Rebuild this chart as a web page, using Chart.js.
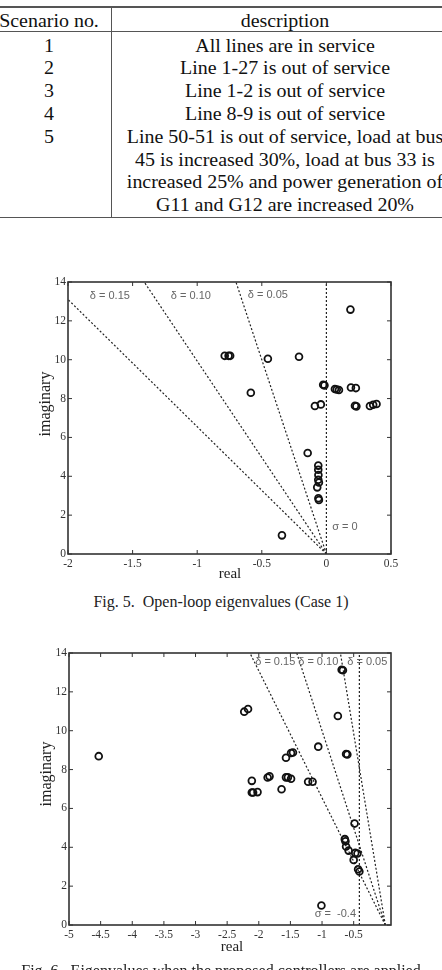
<!DOCTYPE html>
<html><head><meta charset="utf-8">
<script src="https://cdn.jsdelivr.net/npm/chart.js"></script>
<style>
html,body{margin:0;padding:0;background:#fff;width:442px;height:970px;overflow:hidden;position:relative;}
.t{position:absolute;font-family:"Liberation Serif","Times New Roman",serif;font-size:19px;color:#111;white-space:nowrap;transform:translate(-50%,-50%) scaleX(1.05);line-height:1;}
.hl{position:absolute;background:#555;}
canvas{position:absolute;left:0;}
.cap{position:absolute;left:0;width:442px;text-align:center;font-family:"Liberation Serif","Times New Roman",serif;font-size:16px;line-height:18px;color:#222;white-space:pre;}
</style></head><body>
<div id="tbl"></div>
<canvas id="c1" width="442" height="320" style="top:270px"></canvas>
<div class="cap" style="top:593px">Fig. 5.  Open-loop eigenvalues (Case 1)</div>
<canvas id="c2" width="442" height="330" style="top:640px"></canvas>
<div class="cap" style="top:962px">Fig. 6.  Eigenvalues when the proposed controllers are applied</div>
<script>
// ---- table data ----
const tableHeaders = ["Scenario no.", "description"];
const scenarioNumbers = ["1", "2", "3", "4", "5"];
const scenarioDescriptions = [
  ["All lines are in service"],
  ["Line 1-27 is out of service"],
  ["Line 1-2 is out of service"],
  ["Line 8-9 is out of service"],
  ["Line 50-51 is out of service, load at bus", "45 is increased 30%, load at bus 33 is", "increased 25% and power generation of", "G11 and G12 are increased 20%"]
];

// ---- Fig. 5 data (Case 1, open loop) ----
const fig5Real = [0.186, -0.787, -0.757, -0.745, -0.453, -0.212, -0.585, -0.025, -0.015, 0.066, 0.08, 0.097, 0.19, 0.228, -0.089, -0.043, 0.221, 0.232, 0.337, 0.362, 0.388, -0.145, -0.063, -0.063, -0.062, -0.063, -0.058, -0.071, -0.062, -0.058, -0.344];
const fig5Imag = [12.58, 10.2, 10.2, 10.2, 10.05, 10.15, 8.3, 8.71, 8.68, 8.49, 8.47, 8.44, 8.57, 8.54, 7.62, 7.7, 7.63, 7.6, 7.62, 7.68, 7.72, 5.2, 4.55, 4.34, 4.07, 3.82, 3.68, 3.43, 2.87, 2.78, 0.96];
const fig5XTicks = {min: -2, max: 0.5, step: 0.5};
const fig5YTicks = {min: 0, max: 14, step: 2};
const fig5LineNames = ["σ = 0", "δ = 0.05", "δ = 0.10", "δ = 0.15"];
const fig5LineReal = [[0, 0], [0, -0.70], [0, -1.41], [0, -2.0]];
const fig5LineImag = [[0, 14], [0, 14], [0, 14], [0, 13.1]];
const fig5LabelText = ["δ = 0.15", "δ = 0.10", "δ = 0.05", "σ = 0"];
const fig5LabelReal = [-1.676, -1.049, -0.453, 0.143];
const fig5LabelImag = [13.26, 13.26, 13.35, 1.37];

// ---- Fig. 6 data ----
const fig6Real = [-4.53, -2.23, -2.17, -2.11, -2.11, -2.09, -2.02, -1.86, -1.83, -1.64, -1.57, -1.57, -1.54, -1.49, -1.49, -1.46, -1.22, -1.15, -1.06, -1.01, -0.75, -0.69, -0.67, -0.62, -0.60, -0.486, -0.64, -0.63, -0.62, -0.58, -0.50, -0.475, -0.44, -0.43, -0.41];
const fig6Imag = [8.69, 10.98, 11.12, 7.42, 6.82, 6.82, 6.84, 7.59, 7.65, 6.99, 8.61, 7.6, 7.6, 7.53, 8.85, 8.88, 7.37, 7.37, 9.18, 1.0, 10.76, 13.14, 13.11, 8.8, 8.78, 5.22, 4.42, 4.31, 4.04, 3.83, 3.35, 3.71, 3.68, 2.87, 2.75];
const fig6XTicks = {min: -5, max: 0.09, step: 0.5};
const fig6YTicks = {min: 0, max: 14, step: 2};
const fig6LineNames = ["σ = -0.4", "δ = 0.05", "δ = 0.10", "δ = 0.15"];
const fig6LineReal = [[-0.41, -0.41], [0, -0.71], [0, -1.40], [0, -2.14]];
const fig6LineImag = [[0, 14], [0, 14], [0, 14], [0, 14]];
const fig6LabelText = ["δ = 0.15", "δ = 0.10", "δ = 0.05", "σ =  -0.4"];
const fig6LabelReal = [-1.74, -1.06, -0.285, -0.79];
const fig6LabelImag = [13.55, 13.55, 13.55, 0.57];

// ---- build table ----
(function(){
  const root = document.getElementById('tbl');
  function txt(s, x, y){ const d=document.createElement('div'); d.className='t'; d.textContent=s; d.style.left=x+'px'; d.style.top=y+'px'; root.appendChild(d); }
  function line(x,y,w,h){ const d=document.createElement('div'); d.className='hl'; d.style.left=x+'px'; d.style.top=y+'px'; d.style.width=w+'px'; d.style.height=h+'px'; root.appendChild(d); }
  const c1 = 48.5, c2 = 284.5, rowH = 22.8;
  line(0, 6, 442, 1.5);
  line(0, 31, 442, 1);
  line(0, 216.5, 442, 1.5);
  line(110.5, 6, 1, 211.5);
  txt(tableHeaders[0], c1, 20);
  txt(tableHeaders[1], c2, 20);
  let r = 0;
  scenarioNumbers.forEach((n, i) => {
    txt(n, c1, 44.5 + r*rowH);
    scenarioDescriptions[i].forEach((s, k) => { txt(s, c2, 44.5 + (r+k)*rowH); });
    r += scenarioDescriptions[i].length;
  });
})();

// ---- charts ----
const serif = '"Liberation Serif", "Times New Roman", serif';
function decor(cfg){
  return { id: 'decor', afterDatasetsDraw(chart){
    const ctx = chart.ctx, a = chart.chartArea, xs = chart.scales.x, ys = chart.scales.y;
    ctx.save();
    ctx.strokeStyle = '#333'; ctx.lineWidth = 1;
    xs.ticks.forEach(t => { const p = xs.getPixelForValue(t.value); ctx.beginPath(); ctx.moveTo(p, a.bottom); ctx.lineTo(p, a.bottom-4); ctx.moveTo(p, a.top); ctx.lineTo(p, a.top+4); ctx.stroke(); });
    ys.ticks.forEach(t => { const p = ys.getPixelForValue(t.value); ctx.beginPath(); ctx.moveTo(a.left, p); ctx.lineTo(a.left+4, p); ctx.moveTo(a.right, p); ctx.lineTo(a.right-4, p); ctx.stroke(); });
    ctx.lineWidth = 1.6; ctx.strokeStyle = '#333';
    ctx.strokeRect(a.left, a.top, a.right-a.left, a.bottom-a.top);
    ctx.fillStyle = '#666'; ctx.font = '11px "Liberation Sans", Arial, sans-serif';
    ctx.textAlign = 'center'; ctx.textBaseline = 'middle';
    cfg.labels.forEach((s, i) => ctx.fillText(s, xs.getPixelForValue(cfg.lx[i]), ys.getPixelForValue(cfg.ly[i])));
    ctx.fillStyle = '#222'; ctx.font = '15px ' + serif;
    ctx.fillText('real', cfg.xTitle[0], cfg.xTitle[1]);
    ctx.translate(cfg.yTitle[0], cfg.yTitle[1]); ctx.rotate(-Math.PI/2);
    ctx.font = '16px ' + serif;
    ctx.fillText('imaginary', 0, 0);
    ctx.restore();
  }};
}
function fmt(v){ return String(Math.round(v*10)/10); }
function keepSteps(step){
  return function(scale){
    scale.ticks = scale.ticks.filter(t => Math.abs(t.value/step - Math.round(t.value/step)) < 1e-6);
  };
}
function makeChart(id, re, im, xt, yt, lre, lim, lab, lx, ly, pad, yW, xH, xTitle, yTitle){
  const datasets = [{
    data: re.map((x, i) => ({x: x, y: im[i]})), showLine: false,
    pointRadius: 3.4, pointBorderWidth: 1.8, pointBorderColor: '#111', pointBackgroundColor: 'rgba(0,0,0,0)', order: 0
  }];
  lre.forEach((xs, k) => datasets.push({
    data: xs.map((x, i) => ({x: x, y: lim[k][i]})), showLine: true, borderColor: '#222', borderWidth: 1.2,
    borderDash: [2, 2], pointRadius: 0, order: 1
  }));
  return new Chart(document.getElementById(id), {
    type: 'scatter',
    data: {datasets},
    options: {
      responsive: false, animation: false, events: [],
      layout: {padding: pad},
      plugins: {legend: {display: false}, tooltip: {enabled: false}},
      scales: {
        x: {type: 'linear', min: xt.min, max: xt.max,
            afterBuildTicks: keepSteps(xt.step),
            ticks: {stepSize: xt.step, autoSkip: false, maxRotation: 0, padding: 3, color: '#333', font: {family: serif, size: 11.5}, callback: fmt},
            grid: {display: false, drawTicks: false}, border: {display: false},
            afterFit(s){ s.height = xH; }},
        y: {type: 'linear', min: yt.min, max: yt.max,
            afterBuildTicks: keepSteps(yt.step),
            ticks: {stepSize: yt.step, autoSkip: false, padding: 2, color: '#333', font: {family: serif, size: 11.5}, callback: fmt},
            grid: {display: false, drawTicks: false}, border: {display: false},
            afterFit(s){ s.width = yW; }}
      }
    },
    plugins: [decor({labels: lab, lx: lx, ly: ly, xTitle: xTitle, yTitle: yTitle})]
  });
}
makeChart('c1', fig5Real, fig5Imag, fig5XTicks, fig5YTicks, fig5LineReal, fig5LineImag,
  fig5LabelText, fig5LabelReal, fig5LabelImag,
  {left: 0, right: 51, top: 12, bottom: 6}, 68, 30, [230, 304], [46, 134]);
makeChart('c2', fig6Real, fig6Imag, fig6XTicks, fig6YTicks, fig6LineReal, fig6LineImag,
  fig6LabelText, fig6LabelReal, fig6LabelImag,
  {left: 0, right: 51, top: 13, bottom: 15}, 69, 30, [232, 307], [47, 134]);
</script>
</body></html>
